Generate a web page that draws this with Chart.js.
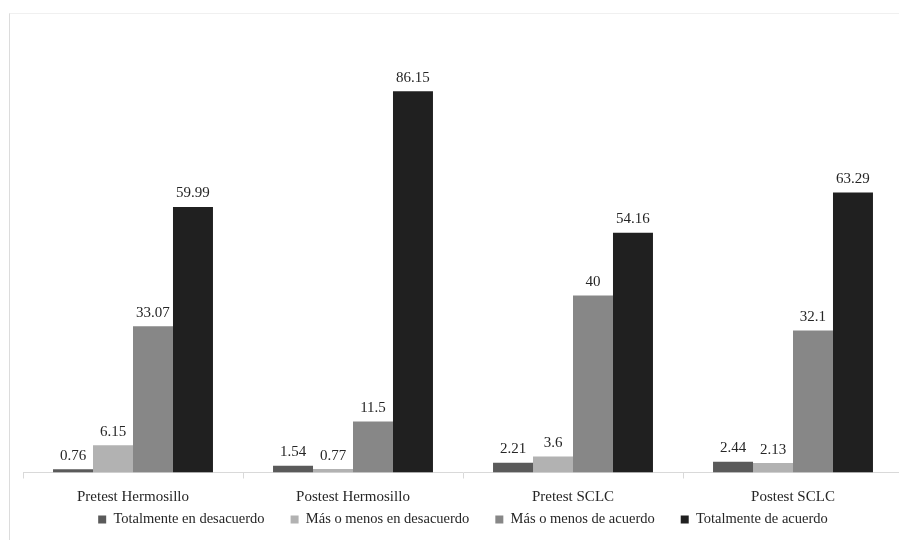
<!DOCTYPE html>
<html>
<head>
<meta charset="utf-8">
<script src="https://cdn.jsdelivr.net/npm/chart.js@4/dist/chart.umd.min.js"></script>
<style>
  html, body { margin: 0; padding: 0; background: #ffffff; overflow: hidden; width: 899px; height: 540px; }
  #wrap { position: absolute; left: 0; top: 0; width: 915px; height: 567px; }
  #frame { position: absolute; left: 9px; top: 13px; width: 920px; height: 560px; border-left: 1px solid #dcdcdc; border-top: 1px solid #f0f0f0; pointer-events: none; }
</style>
</head>
<body>
<div id="frame"></div>
<div id="wrap"><canvas id="c" width="915" height="567"></canvas></div>
<script>
const categories = ["Pretest Hermosillo", "Postest Hermosillo", "Pretest SCLC", "Postest SCLC"];
const seriesNames = ["Totalmente en desacuerdo", "Más o menos en desacuerdo", "Más o menos de acuerdo", "Totalmente de acuerdo"];
const totalDesacuerdo = [0.76, 1.54, 2.21, 2.44];
const masMenosDesacuerdo = [6.15, 0.77, 3.6, 2.13];
const masMenosAcuerdo = [33.07, 11.5, 40, 32.1];
const totalAcuerdo = [59.99, 86.15, 54.16, 63.29];
const seriesColors = ["#5a5a5a", "#b2b2b2", "#878787", "#202020"];

const serif = '"Liberation Serif", "Times New Roman", serif';
const LEGEND_PAD = 26;
const LEGEND_FONT = 14.5;
const LEGEND_CENTER_Y = 519.5;

const valueLabels = {
  id: 'valueLabels',
  afterDatasetsDraw(chart) {
    const ctx = chart.ctx;
    ctx.save();
    ctx.font = '15px ' + serif;
    ctx.fillStyle = '#262626';
    ctx.textAlign = 'center';
    ctx.textBaseline = 'bottom';
    chart.data.datasets.forEach((ds, i) => {
      chart.getDatasetMeta(i).data.forEach((bar, j) => {
        ctx.fillText(String(ds.data[j]), bar.x, bar.y - 6);
      });
    });
    ctx.restore();
  }
};

// Pull the legend row up closer to the axis labels (keeps wide horizontal item spacing)
const legendShift = {
  id: 'legendShift',
  afterLayout(chart) {
    const l = chart.legend;
    if (!l) return;
    const dy = LEGEND_CENTER_Y - (l.top + LEGEND_PAD + LEGEND_FONT / 2);
    l.top += dy;
    l.bottom += dy;
  }
};

const allSeries = [totalDesacuerdo, masMenosDesacuerdo, masMenosAcuerdo, totalAcuerdo];

new Chart(document.getElementById('c'), {
  type: 'bar',
  data: {
    labels: categories,
    datasets: allSeries.map((d, i) => ({
      label: seriesNames[i],
      data: d,
      backgroundColor: seriesColors[i],
      borderWidth: 0,
      categoryPercentage: 0.727,
      barPercentage: 1.0
    }))
  },
  options: {
    responsive: false,
    animation: false,
    layout: { padding: { left: 23, right: 12, top: 30, bottom: 0 } },
    scales: {
      x: {
        grid: { drawOnChartArea: false, drawTicks: true, tickLength: 6, color: '#d9d9d9', offset: true },
        border: { display: true, color: '#d9d9d9', width: 1 },
        ticks: { font: { family: serif, size: 15 }, color: '#262626', padding: 10 }
      },
      y: {
        display: false,
        min: 0,
        max: 100
      }
    },
    plugins: {
      legend: {
        position: 'bottom',
        labels: {
          font: { family: serif, size: LEGEND_FONT },
          color: '#262626',
          boxWidth: 8,
          boxHeight: 8,
          padding: LEGEND_PAD
        }
      },
      tooltip: { enabled: false },
      title: { display: false }
    }
  },
  plugins: [valueLabels, legendShift]
});
</script>
</body>
</html>
